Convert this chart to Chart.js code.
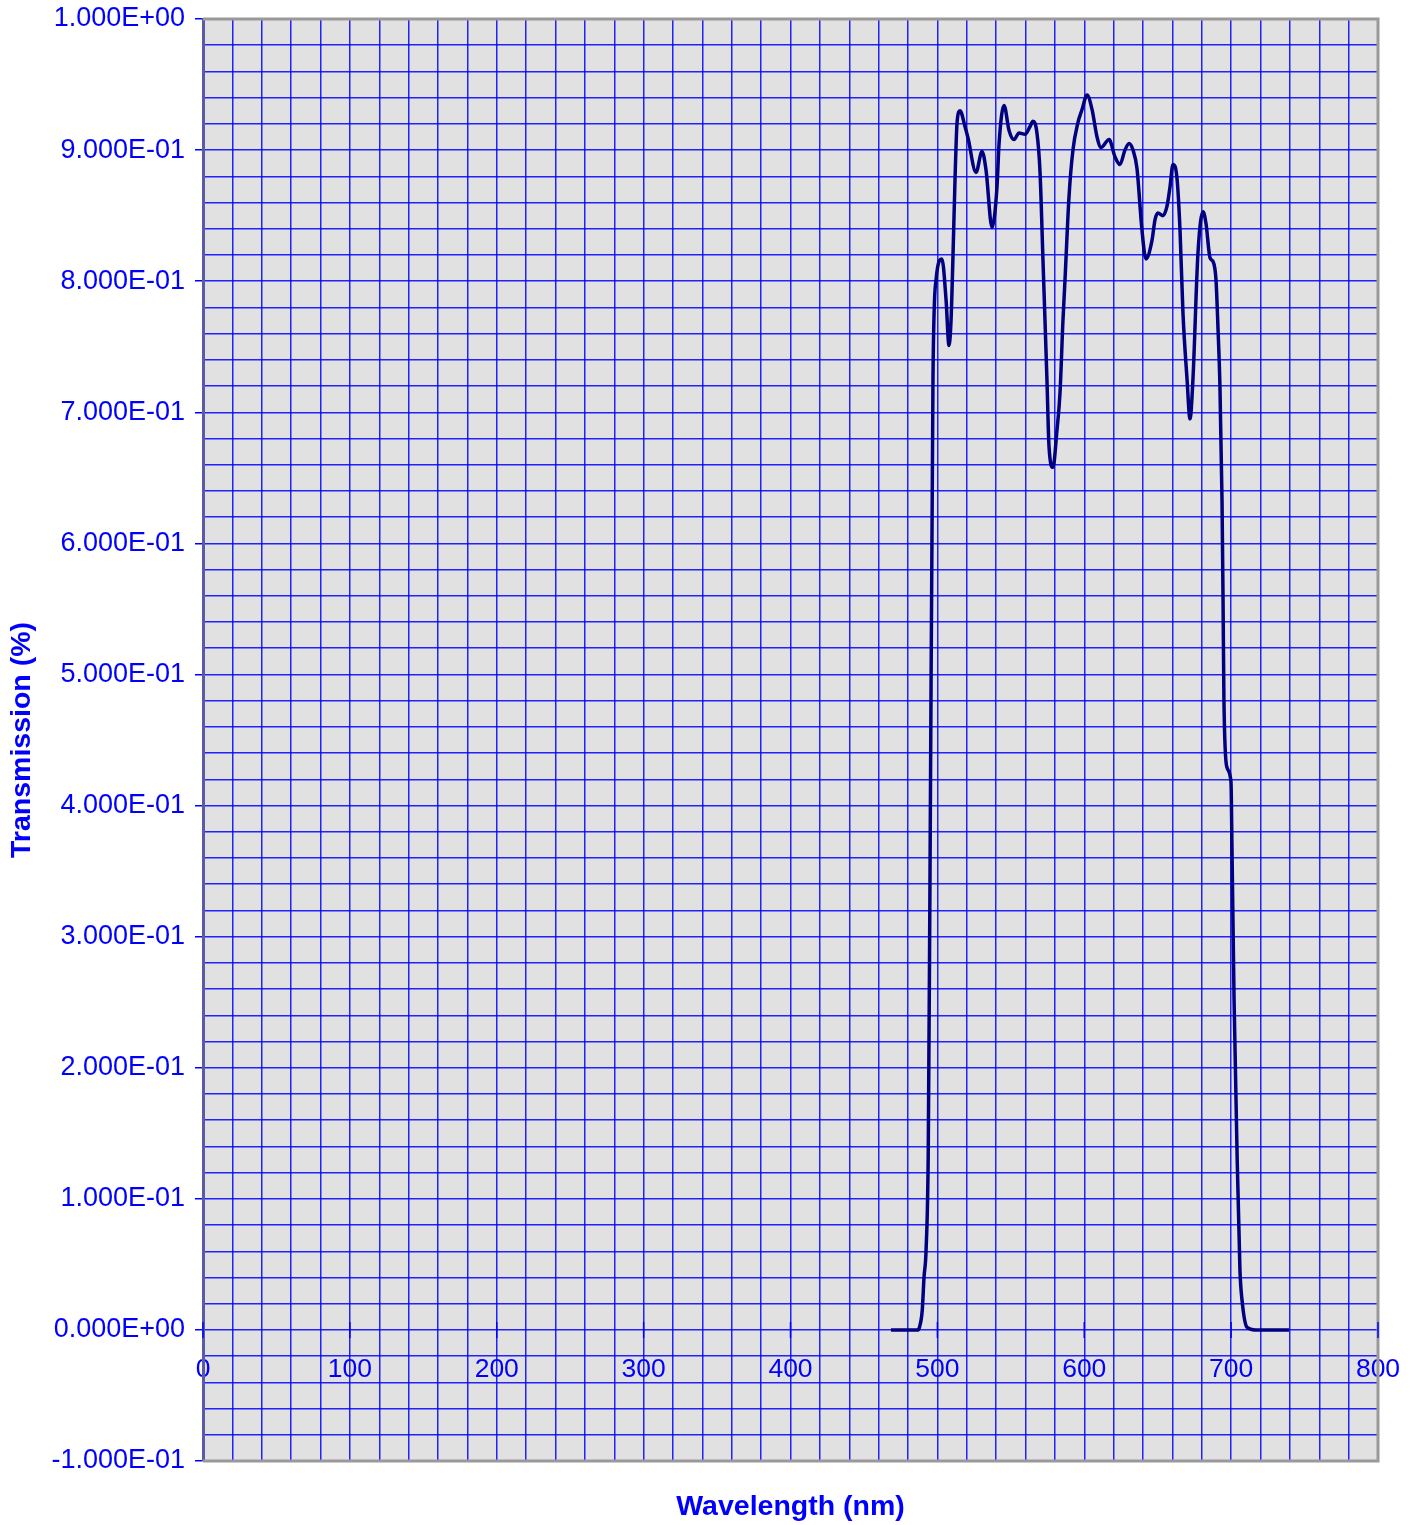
<!DOCTYPE html>
<html>
<head>
<meta charset="utf-8">
<script src="https://cdn.jsdelivr.net/npm/chart.js@4.4.1/dist/chart.umd.min.js"></script>
<style>
  html, body { margin: 0; padding: 0; background: #ffffff; }
  #wrap { width: 1413px; height: 1525px; }
</style>
</head>
<body>
<div id="wrap"><canvas id="spectrum" width="1413" height="1525"></canvas></div>
<script>
// Measured transmission curve (wavelength in nm, transmission as fraction)
const wavelengths = [
  468.4, 486.8, 487.8, 489.7, 490.9, 492.3, 493.8, 495.0, 497.0, 499.1,
  503.1, 505.9, 507.9, 509.3, 510.6, 512.0, 513.4, 515.4, 518.8, 520.9,
  526.3, 530.4, 533.1, 537.2, 540.6, 542.0, 545.4, 548.8, 552.2, 555.6,
  559.7, 563.1, 565.1, 567.8, 569.9, 571.9, 574.6, 576.0, 578.7, 581.4,
  583.5, 585.5, 586.9, 589.6, 592.3, 595.7, 598.5, 601.9, 605.3, 608.7,
  611.4, 616.9, 620.9, 624.3, 627.7, 630.5, 633.2, 635.9, 639.3, 642.0,
  646.1, 648.2, 650.2, 653.6, 656.3, 658.4, 660.4, 663.1, 665.2, 667.2,
  670.0, 672.0, 674.0, 677.4, 680.9, 682.9, 685.6, 687.7, 689.7, 691.1,
  692.4, 693.8, 694.5, 695.1, 697.2, 699.9, 700.6, 702.0, 704.0, 706.0,
  707.4, 710.8, 716.3, 739.4
];
const transmission = [
  0, 0, 0.002, 0.015, 0.040, 0.061, 0.137, 0.350, 0.725, 0.801,
  0.817, 0.786, 0.751, 0.770, 0.818, 0.877, 0.921, 0.930, 0.918, 0.909,
  0.883, 0.899, 0.885, 0.841, 0.872, 0.905, 0.934, 0.915, 0.908, 0.913,
  0.912, 0.918, 0.922, 0.913, 0.883, 0.816, 0.725, 0.674, 0.658, 0.686,
  0.715, 0.770, 0.801, 0.864, 0.900, 0.921, 0.931, 0.942, 0.931, 0.910,
  0.902, 0.908, 0.895, 0.889, 0.900, 0.905, 0.900, 0.886, 0.839, 0.817,
  0.831, 0.847, 0.852, 0.850, 0.857, 0.872, 0.889, 0.879, 0.839, 0.776,
  0.725, 0.695, 0.725, 0.821, 0.853, 0.844, 0.818, 0.815, 0.801, 0.763,
  0.719, 0.633, 0.557, 0.481, 0.429, 0.418, 0.366, 0.252, 0.137, 0.046,
  0.023, 0.002, 0, 0
];

// Axis settings
const xMin = 0, xMax = 800, xMinorStep = 20, xMajorStep = 100;
const yMin = -0.1, yMax = 1.0;
const xTickValues = [];
for (let v = xMin; v <= xMax; v += xMinorStep) xTickValues.push(v);
const yTickValues = [];
for (let i = -5; i <= 50; i++) yTickValues.push(Math.round(i * 2) / 100);

const blue = '#0000ff';
const gridBlue = 'rgba(0,0,255,0.85)';

// Format like 9.000E-01
function sciLabel(v) {
    if (Math.abs(v) < 1e-9) return '0.000E+00';
    const e = Math.floor(Math.log10(Math.abs(v)) + 1e-9);
    const m = v / Math.pow(10, e);
    return m.toFixed(3) + 'E' + (e < 0 ? '-' : '+') + String(Math.abs(e)).padStart(2, '0');
}

function isMajorY(v) {
    return Math.abs(Math.round(v * 10) - v * 10) < 1e-6;
}

// No label overhang padding, the layout padding sets the plot box
function noOverhang(axis) {
    axis.paddingLeft = 0;
    axis.paddingRight = 0;
    axis.paddingTop = 0;
    axis.paddingBottom = 0;
}

// Plot background, frame and the crossing ticks on the zero line
const framePlugin = {
    id: 'frame',
    beforeDraw(chart) {
        const a = chart.chartArea;
        const ctx = chart.ctx;
        ctx.save();
        ctx.fillStyle = '#e1e1e1';
        ctx.fillRect(a.left, a.top, a.right - a.left, a.bottom - a.top);
        ctx.restore();
    },
    afterDraw(chart) {
        const a = chart.chartArea;
        const ctx = chart.ctx;
        const xs = chart.scales.x;
        const y0 = chart.scales.y.getPixelForValue(0);
        ctx.save();
        ctx.strokeStyle = '#999999';
        ctx.lineWidth = 3;
        ctx.beginPath();
        ctx.moveTo(a.left, a.top);
        ctx.lineTo(a.right, a.top);
        ctx.lineTo(a.right, a.bottom);
        ctx.lineTo(a.left, a.bottom);
        ctx.stroke();
        ctx.strokeStyle = blue;
        ctx.lineWidth = 1.5;
        for (let v = xMin; v <= xMax; v += xMajorStep) {
            const px = xs.getPixelForValue(v);
            ctx.beginPath();
            ctx.moveTo(px, y0 - 8);
            ctx.lineTo(px, y0 + 8);
            ctx.stroke();
        }
        // x axis title
        ctx.fillStyle = blue;
        ctx.font = 'bold 28.5px "Liberation Sans", Arial, sans-serif';
        ctx.textAlign = 'center';
        ctx.textBaseline = 'middle';
        ctx.fillText('Wavelength (nm)', (a.left + a.right) / 2, 1507);
        ctx.restore();
    }
};

Chart.defaults.font.family = '"Liberation Sans", Arial, sans-serif';

const ctx = document.getElementById('spectrum').getContext('2d');
new Chart(ctx, {
    type: 'line',
    data: {
        datasets: [{
            data: wavelengths.map((w, i) => ({ x: w, y: transmission[i] })),
            borderColor: '#000080',
            borderWidth: 3.5,
            pointRadius: 0,
            fill: false,
            cubicInterpolationMode: 'monotone'
        }]
    },
    options: {
        responsive: false,
        animation: false,
        layout: { padding: { left: 0, right: 35, top: 19, bottom: 64 } },
        plugins: {
            legend: { display: false },
            tooltip: { enabled: false }
        },
        scales: {
            x: {
                type: 'linear',
                position: { y: 0 },
                min: xMin,
                max: xMax,
                afterBuildTicks: axis => { axis.ticks = xTickValues.map(v => ({ value: v })); },
                afterFit: noOverhang,
                border: { display: false },
                grid: { color: gridBlue, lineWidth: 1.5, drawTicks: false },
                ticks: {
                    autoSkip: false,
                    maxRotation: 0,
                    padding: 24,
                    color: blue,
                    font: { size: 26.5 },
                    callback: v => (v % xMajorStep === 0 ? String(v) : '')
                }
            },
            y: {
                type: 'linear',
                min: yMin,
                max: yMax,
                afterBuildTicks: axis => { axis.ticks = yTickValues.map(v => ({ value: v })); },
                afterFit: axis => { noOverhang(axis); axis.width = 203; },
                border: { display: true, color: '#5a5aa8', width: 3 },
                grid: {
                    color: gridBlue,
                    lineWidth: 1.5,
                    tickLength: 8,
                    tickColor: c => (isMajorY(c.tick.value) ? blue : 'rgba(0,0,0,0)')
                },
                ticks: {
                    autoSkip: false,
                    padding: 10,
                    color: blue,
                    font: { size: 27 },
                    callback: v => (isMajorY(v) ? sciLabel(v) : '')
                },
                title: {
                    display: true,
                    text: 'Transmission (%)',
                    color: blue,
                    font: { size: 28.5, weight: 'bold' },
                    padding: { top: 5, bottom: 0 }
                }
            }
        }
    },
    plugins: [framePlugin]
});
</script>
</body>
</html>
